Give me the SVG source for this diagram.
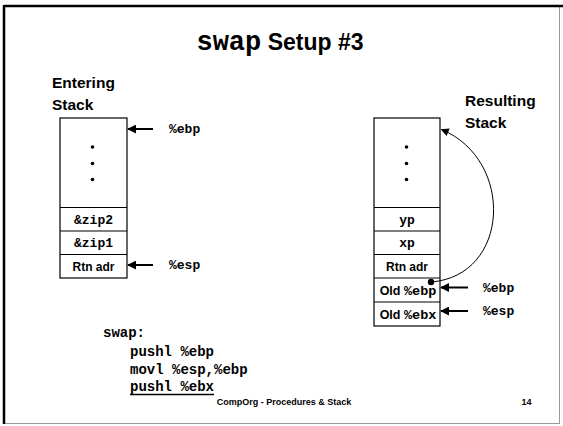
<svg xmlns="http://www.w3.org/2000/svg" width="563" height="426" viewBox="0 0 563 426">
<style>
.box{fill:#fff;stroke:#000;stroke-width:1.2}
.div{stroke:#000;stroke-width:1.2}
.arr{stroke:#000;stroke-width:2;fill:none}
.ar{font-family:"Liberation Sans",Arial,sans-serif;font-weight:bold;fill:#000}
.mo{font-family:"Liberation Mono","Courier New",monospace;font-weight:bold;fill:#000}
.cell{font-size:12px;text-anchor:middle}
.mcell{font-size:13px;text-anchor:middle}
.reg{font-size:13px}
.code{font-size:14px}
</style>
<defs>
<marker id="ah" viewBox="0 0 10 10" refX="9" refY="5" markerWidth="4.5" markerHeight="4.5" orient="auto" markerUnits="strokeWidth">
<path d="M0,0 L10,5 L0,10 z" fill="#000"/>
</marker>
<marker id="ah2" viewBox="0 0 10 10" refX="9" refY="5" markerWidth="9" markerHeight="8" orient="auto" markerUnits="strokeWidth">
<path d="M0,0 L10,5 L0,10 z" fill="#000"/>
</marker>
</defs>
<rect x="0" y="0" width="563" height="426" fill="#fff"/>
<g id="frame">
<rect x="4.5" y="6.5" width="555" height="417" fill="none" stroke="#999" stroke-width="1"/>
<line x1="4" y1="6" x2="563" y2="6" stroke="#000" stroke-width="2.5"/>
<line x1="4" y1="5" x2="4" y2="424" stroke="#000" stroke-width="2.5"/>
</g>
<g id="title">
<text x="280" y="50" text-anchor="middle"><tspan class="mo" font-size="27">swap</tspan><tspan class="ar" font-size="23"> Setup #3</tspan></text>
</g>
<g id="entering-label">
<text class="ar" x="52" y="88" font-size="15.5">Entering</text>
<text class="ar" x="52" y="110" font-size="15.5">Stack</text>
</g>
<g id="resulting-label">
<text class="ar" x="465" y="106" font-size="15.5">Resulting</text>
<text class="ar" x="465" y="128" font-size="15.5">Stack</text>
</g>
<g id="entering-stack">
<rect class="box" x="60" y="118" width="67" height="160"/>
<line class="div" x1="60" y1="207.5" x2="127" y2="207.5"/>
<line class="div" x1="60" y1="231" x2="127" y2="231"/>
<line class="div" x1="60" y1="254.5" x2="127" y2="254.5"/>
<circle cx="92.5" cy="147" r="1.8"/>
<circle cx="92.5" cy="163.5" r="1.8"/>
<circle cx="92.5" cy="179.5" r="1.8"/>
<text class="mo mcell" x="93.5" y="223.5">&amp;zip2</text>
<text class="mo mcell" x="93.5" y="247">&amp;zip1</text>
<text class="ar cell" x="93.5" y="270.5">Rtn adr</text>
</g>
<g id="resulting-stack">
<rect class="box" x="374" y="118" width="66" height="208"/>
<line class="div" x1="374" y1="207.5" x2="440" y2="207.5"/>
<line class="div" x1="374" y1="231" x2="440" y2="231"/>
<line class="div" x1="374" y1="254.5" x2="440" y2="254.5"/>
<line class="div" x1="374" y1="278" x2="440" y2="278"/>
<line class="div" x1="374" y1="302" x2="440" y2="302"/>
<circle cx="406.5" cy="147" r="1.8"/>
<circle cx="406.5" cy="163.5" r="1.8"/>
<circle cx="406.5" cy="179.5" r="1.8"/>
<text class="mo mcell" x="407" y="223.5">yp</text>
<text class="mo mcell" x="407" y="247">xp</text>
<text class="ar cell" x="407" y="270.5">Rtn adr</text>
<text x="408" y="294.5" text-anchor="middle"><tspan class="ar" font-size="12.5">Old </tspan><tspan class="mo" font-size="13.5">%ebp</tspan></text>
<text x="408" y="318.5" text-anchor="middle"><tspan class="ar" font-size="12.5">Old </tspan><tspan class="mo" font-size="13.5">%ebx</tspan></text>
</g>
<g id="register-labels">
<text class="mo reg" x="169" y="133">%ebp</text>
<text class="mo reg" x="169" y="269">%esp</text>
<text class="mo reg" x="483" y="291.5">%ebp</text>
<text class="mo reg" x="483" y="315">%esp</text>
</g>
<g id="connectors">
<line class="arr" x1="153" y1="129" x2="128" y2="129" marker-end="url(#ah)"/>
<line class="arr" x1="153" y1="265" x2="128" y2="265" marker-end="url(#ah)"/>
<line class="arr" x1="468" y1="287.5" x2="441" y2="287.5" marker-end="url(#ah)"/>
<line class="arr" x1="468" y1="311" x2="441" y2="311" marker-end="url(#ah)"/>
<circle cx="431" cy="282" r="3.2" fill="#000"/>
<path d="M431,282 C510,276 515,160 441.5,129.5" fill="none" stroke="#000" stroke-width="1" marker-end="url(#ah2)"/>
</g>
<g id="code">
<text class="mo code" x="103" y="337">swap:</text>
<text class="mo code" x="130" y="356">pushl %ebp</text>
<text class="mo code" x="130" y="373.5">movl %esp,%ebp</text>
<text class="mo code" x="130" y="391">pushl %ebx</text>
<line x1="130" y1="394.5" x2="214" y2="394.5" stroke="#000" stroke-width="1.5"/>
</g>
<g id="footer">
<text class="ar" x="284" y="405" font-size="9" text-anchor="middle">CompOrg - Procedures &amp; Stack</text>
<text class="ar" x="526.5" y="405" font-size="9" text-anchor="middle">14</text>
</g>
</svg>
